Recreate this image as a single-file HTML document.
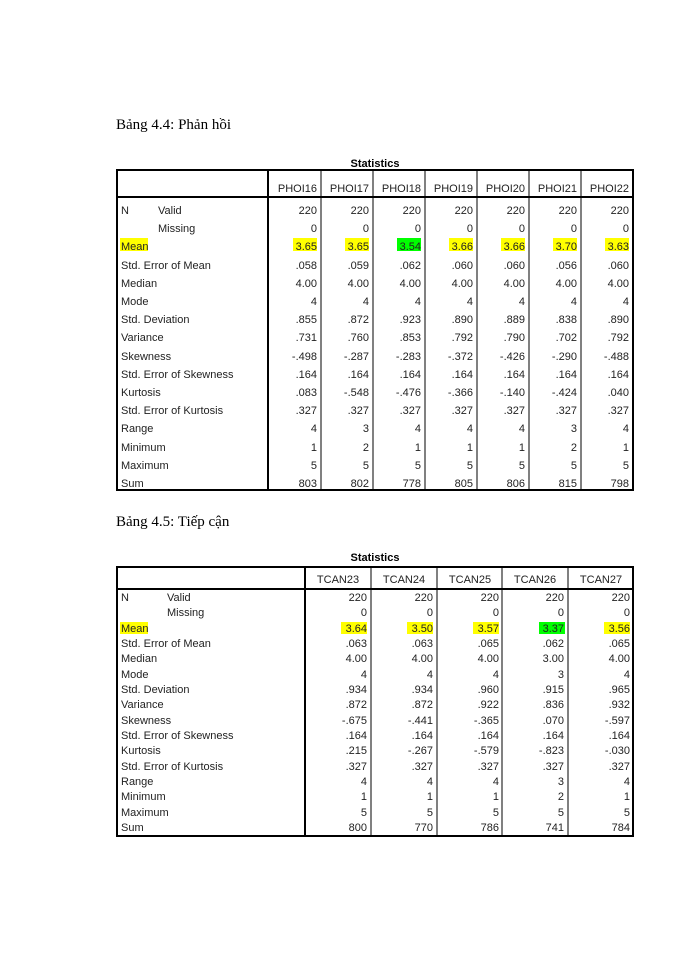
<!DOCTYPE html>
<html><head><meta charset="utf-8"><style>
body{margin:0;background:#fff}
svg{display:block}
text{font-family:"Liberation Sans",sans-serif;font-size:11px;fill:#222}
.t{font-family:"Liberation Serif",serif;font-size:15px;fill:#000}
.h{font-weight:bold;font-size:11px;fill:#000}
.r{text-anchor:end}
</style></head><body>
<svg width="700" height="960" xmlns="http://www.w3.org/2000/svg">
<text class="t" x="116" y="129">Bảng 4.4: Phản hồi</text>
<text class="h" x="375" y="167" text-anchor="middle">Statistics</text>
<g stroke="#000" fill="none">
<rect x="117" y="170" width="516" height="320" stroke-width="2"/>
<line x1="117" y1="197" x2="633" y2="197" stroke-width="2"/>
<line x1="268" y1="170" x2="268" y2="490" stroke-width="2"/>
<line x1="321" y1="170" x2="321" y2="490"/><line x1="373" y1="170" x2="373" y2="490"/>
<line x1="425" y1="170" x2="425" y2="490"/><line x1="477" y1="170" x2="477" y2="490"/>
<line x1="529" y1="170" x2="529" y2="490"/><line x1="581" y1="170" x2="581" y2="490"/>
</g>
<g fill="#ffff00"><rect x="120" y="238" width="28" height="13"/><rect x="293" y="238" width="24" height="13"/><rect x="345" y="238" width="24" height="13"/><rect x="449" y="238" width="24" height="13"/><rect x="501" y="238" width="24" height="13"/><rect x="553" y="238" width="24" height="13"/><rect x="605" y="238" width="24" height="13"/></g>
<rect x="397" y="238" width="24" height="13" fill="#00ff00"/>
<g class="r">
<text class="r" x="317" y="192">PHOI16</text><text class="r" x="369" y="192">PHOI17</text><text class="r" x="421" y="192">PHOI18</text><text class="r" x="473" y="192">PHOI19</text><text class="r" x="525" y="192">PHOI20</text><text class="r" x="577" y="192">PHOI21</text><text class="r" x="629" y="192">PHOI22</text>
</g>
<g>
<text x="121" y="214">N</text><text x="158" y="214">Valid</text>
<text x="158" y="232">Missing</text>
<text x="121" y="250">Mean</text>
<text x="121" y="269">Std. Error of Mean</text>
<text x="121" y="287">Median</text>
<text x="121" y="305">Mode</text>
<text x="121" y="323">Std. Deviation</text>
<text x="121" y="341">Variance</text>
<text x="121" y="360">Skewness</text>
<text x="121" y="378">Std. Error of Skewness</text>
<text x="121" y="396">Kurtosis</text>
<text x="121" y="414">Std. Error of Kurtosis</text>
<text x="121" y="432">Range</text>
<text x="121" y="451">Minimum</text>
<text x="121" y="469">Maximum</text>
<text x="121" y="487">Sum</text>
</g>
<g text-anchor="end">
<text x="317" y="214">220</text><text x="369" y="214">220</text><text x="421" y="214">220</text><text x="473" y="214">220</text><text x="525" y="214">220</text><text x="577" y="214">220</text><text x="629" y="214">220</text>
<text x="317" y="232">0</text><text x="369" y="232">0</text><text x="421" y="232">0</text><text x="473" y="232">0</text><text x="525" y="232">0</text><text x="577" y="232">0</text><text x="629" y="232">0</text>
<text x="317" y="250">3.65</text><text x="369" y="250">3.65</text><text x="421" y="250">3.54</text><text x="473" y="250">3.66</text><text x="525" y="250">3.66</text><text x="577" y="250">3.70</text><text x="629" y="250">3.63</text>
<text x="317" y="269">.058</text><text x="369" y="269">.059</text><text x="421" y="269">.062</text><text x="473" y="269">.060</text><text x="525" y="269">.060</text><text x="577" y="269">.056</text><text x="629" y="269">.060</text>
<text x="317" y="287">4.00</text><text x="369" y="287">4.00</text><text x="421" y="287">4.00</text><text x="473" y="287">4.00</text><text x="525" y="287">4.00</text><text x="577" y="287">4.00</text><text x="629" y="287">4.00</text>
<text x="317" y="305">4</text><text x="369" y="305">4</text><text x="421" y="305">4</text><text x="473" y="305">4</text><text x="525" y="305">4</text><text x="577" y="305">4</text><text x="629" y="305">4</text>
<text x="317" y="323">.855</text><text x="369" y="323">.872</text><text x="421" y="323">.923</text><text x="473" y="323">.890</text><text x="525" y="323">.889</text><text x="577" y="323">.838</text><text x="629" y="323">.890</text>
<text x="317" y="341">.731</text><text x="369" y="341">.760</text><text x="421" y="341">.853</text><text x="473" y="341">.792</text><text x="525" y="341">.790</text><text x="577" y="341">.702</text><text x="629" y="341">.792</text>
<text x="317" y="360">-.498</text><text x="369" y="360">-.287</text><text x="421" y="360">-.283</text><text x="473" y="360">-.372</text><text x="525" y="360">-.426</text><text x="577" y="360">-.290</text><text x="629" y="360">-.488</text>
<text x="317" y="378">.164</text><text x="369" y="378">.164</text><text x="421" y="378">.164</text><text x="473" y="378">.164</text><text x="525" y="378">.164</text><text x="577" y="378">.164</text><text x="629" y="378">.164</text>
<text x="317" y="396">.083</text><text x="369" y="396">-.548</text><text x="421" y="396">-.476</text><text x="473" y="396">-.366</text><text x="525" y="396">-.140</text><text x="577" y="396">-.424</text><text x="629" y="396">.040</text>
<text x="317" y="414">.327</text><text x="369" y="414">.327</text><text x="421" y="414">.327</text><text x="473" y="414">.327</text><text x="525" y="414">.327</text><text x="577" y="414">.327</text><text x="629" y="414">.327</text>
<text x="317" y="432">4</text><text x="369" y="432">3</text><text x="421" y="432">4</text><text x="473" y="432">4</text><text x="525" y="432">4</text><text x="577" y="432">3</text><text x="629" y="432">4</text>
<text x="317" y="451">1</text><text x="369" y="451">2</text><text x="421" y="451">1</text><text x="473" y="451">1</text><text x="525" y="451">1</text><text x="577" y="451">2</text><text x="629" y="451">1</text>
<text x="317" y="469">5</text><text x="369" y="469">5</text><text x="421" y="469">5</text><text x="473" y="469">5</text><text x="525" y="469">5</text><text x="577" y="469">5</text><text x="629" y="469">5</text>
<text x="317" y="487">803</text><text x="369" y="487">802</text><text x="421" y="487">778</text><text x="473" y="487">805</text><text x="525" y="487">806</text><text x="577" y="487">815</text><text x="629" y="487">798</text>
</g>

<text class="t" x="116" y="526">Bảng 4.5: Tiếp cận</text>
<text class="h" x="375" y="561" text-anchor="middle">Statistics</text>
<g stroke="#000" fill="none">
<rect x="117" y="567" width="516" height="269" stroke-width="2"/>
<line x1="117" y1="589" x2="633" y2="589" stroke-width="2"/>
<line x1="305" y1="567" x2="305" y2="836" stroke-width="2"/>
<line x1="371" y1="567" x2="371" y2="836"/><line x1="437" y1="567" x2="437" y2="836"/>
<line x1="502" y1="567" x2="502" y2="836"/><line x1="568" y1="567" x2="568" y2="836"/>
</g>
<g fill="#ffff00"><rect x="120" y="622" width="28" height="12"/><rect x="341" y="622" width="26" height="12"/><rect x="407" y="622" width="26" height="12"/><rect x="473" y="622" width="26" height="12"/><rect x="604" y="622" width="26" height="12"/></g>
<rect x="539" y="622" width="26" height="12" fill="#00ff00"/>
<g text-anchor="middle">
<text x="338" y="583">TCAN23</text><text x="404" y="583">TCAN24</text><text x="470" y="583">TCAN25</text><text x="535" y="583">TCAN26</text><text x="601" y="583">TCAN27</text>
</g>
<g>
<text x="121" y="601">N</text><text x="167" y="601">Valid</text>
<text x="167" y="616">Missing</text>
<text x="121" y="632">Mean</text>
<text x="121" y="647">Std. Error of Mean</text>
<text x="121" y="662">Median</text>
<text x="121" y="678">Mode</text>
<text x="121" y="693">Std. Deviation</text>
<text x="121" y="708">Variance</text>
<text x="121" y="724">Skewness</text>
<text x="121" y="739">Std. Error of Skewness</text>
<text x="121" y="754">Kurtosis</text>
<text x="121" y="770">Std. Error of Kurtosis</text>
<text x="121" y="785">Range</text>
<text x="121" y="800">Minimum</text>
<text x="121" y="816">Maximum</text>
<text x="121" y="831">Sum</text>
</g>
<g text-anchor="end">
<text x="367" y="601">220</text><text x="433" y="601">220</text><text x="499" y="601">220</text><text x="564" y="601">220</text><text x="630" y="601">220</text>
<text x="367" y="616">0</text><text x="433" y="616">0</text><text x="499" y="616">0</text><text x="564" y="616">0</text><text x="630" y="616">0</text>
<text x="367" y="632">3.64</text><text x="433" y="632">3.50</text><text x="499" y="632">3.57</text><text x="564" y="632">3.37</text><text x="630" y="632">3.56</text>
<text x="367" y="647">.063</text><text x="433" y="647">.063</text><text x="499" y="647">.065</text><text x="564" y="647">.062</text><text x="630" y="647">.065</text>
<text x="367" y="662">4.00</text><text x="433" y="662">4.00</text><text x="499" y="662">4.00</text><text x="564" y="662">3.00</text><text x="630" y="662">4.00</text>
<text x="367" y="678">4</text><text x="433" y="678">4</text><text x="499" y="678">4</text><text x="564" y="678">3</text><text x="630" y="678">4</text>
<text x="367" y="693">.934</text><text x="433" y="693">.934</text><text x="499" y="693">.960</text><text x="564" y="693">.915</text><text x="630" y="693">.965</text>
<text x="367" y="708">.872</text><text x="433" y="708">.872</text><text x="499" y="708">.922</text><text x="564" y="708">.836</text><text x="630" y="708">.932</text>
<text x="367" y="724">-.675</text><text x="433" y="724">-.441</text><text x="499" y="724">-.365</text><text x="564" y="724">.070</text><text x="630" y="724">-.597</text>
<text x="367" y="739">.164</text><text x="433" y="739">.164</text><text x="499" y="739">.164</text><text x="564" y="739">.164</text><text x="630" y="739">.164</text>
<text x="367" y="754">.215</text><text x="433" y="754">-.267</text><text x="499" y="754">-.579</text><text x="564" y="754">-.823</text><text x="630" y="754">-.030</text>
<text x="367" y="770">.327</text><text x="433" y="770">.327</text><text x="499" y="770">.327</text><text x="564" y="770">.327</text><text x="630" y="770">.327</text>
<text x="367" y="785">4</text><text x="433" y="785">4</text><text x="499" y="785">4</text><text x="564" y="785">3</text><text x="630" y="785">4</text>
<text x="367" y="800">1</text><text x="433" y="800">1</text><text x="499" y="800">1</text><text x="564" y="800">2</text><text x="630" y="800">1</text>
<text x="367" y="816">5</text><text x="433" y="816">5</text><text x="499" y="816">5</text><text x="564" y="816">5</text><text x="630" y="816">5</text>
<text x="367" y="831">800</text><text x="433" y="831">770</text><text x="499" y="831">786</text><text x="564" y="831">741</text><text x="630" y="831">784</text>
</g>
</svg>
</body></html>
